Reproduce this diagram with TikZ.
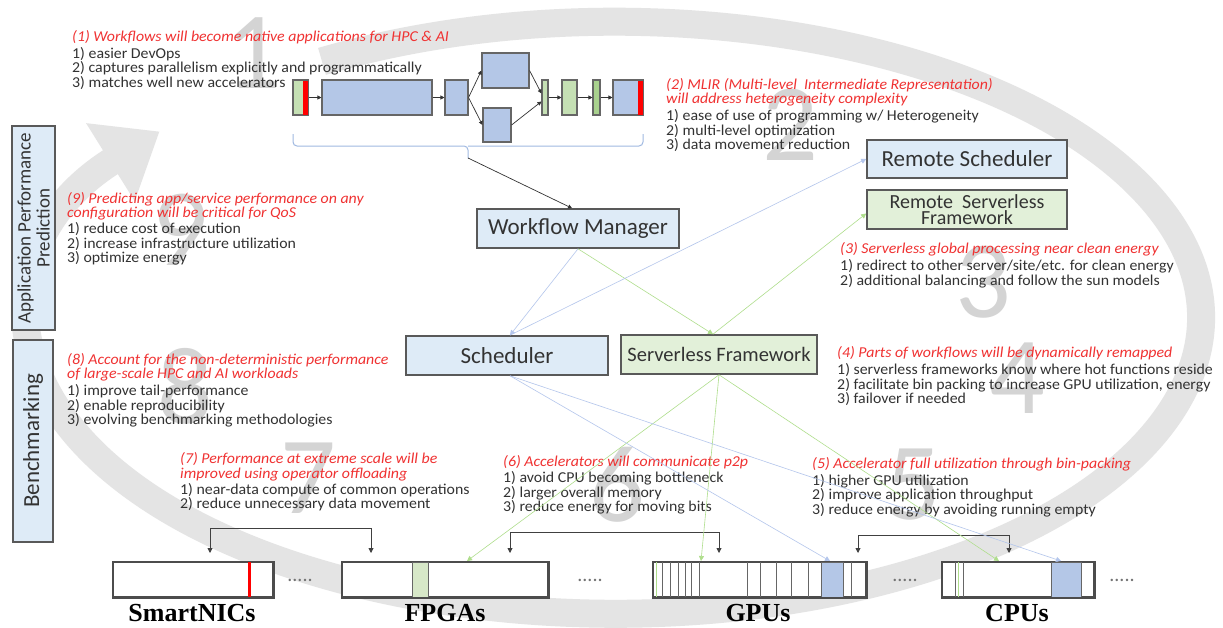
\documentclass[tikz,border=0pt]{standalone}
\usepackage{fontspec}
\usetikzlibrary{arrows.meta,calc}
\newfontfamily\bodyf{Carlito}
\newfontfamily\txtf{Carlito}[FakeStretch=1.05]
\newfontfamily\labf{Liberation Serif}
\definecolor{boxblue}{RGB}{222,235,247}
\definecolor{boxgreen}{RGB}{226,240,217}
\definecolor{blkblue}{RGB}{180,199,231}
\definecolor{blkgreen}{RGB}{197,224,180}
\definecolor{blkdkgreen}{RGB}{169,209,142}
\definecolor{stripred}{RGB}{255,0,0}
\definecolor{txtred}{RGB}{240,50,50}
\definecolor{txtgray}{RGB}{50,50,50}
\definecolor{ringgray}{RGB}{228,228,228}
\definecolor{digitgray}{RGB}{212,212,212}
\definecolor{linkblue}{RGB}{180,198,236}
\definecolor{linkgreen}{RGB}{175,222,140}
\definecolor{braceblue}{RGB}{160,185,225}
\definecolor{fpgagreen}{RGB}{215,232,200}
\newcommand\hd{\color{txtred}\itshape}
\newcommand\fs{\rule{0pt}{12pt}}
\begin{document}
\begin{tikzpicture}[x=1pt,y=-1pt,
  txt/.style={anchor=north west, inner sep=0pt, align=left, text=txtgray,
    font=\txtf\fontsize{15.1}{14.5}\selectfont},
  bx/.style={draw=black!65, line width=1.6pt, fill=boxblue, inner sep=0pt,
    text=black!80, align=center, font=\bodyf\fontsize{23}{24}\selectfont},
  gbx/.style={bx, fill=boxgreen},
  blk/.style={draw=black!60, line width=1.1pt, fill=blkblue, inner sep=0pt, minimum height=35pt},
  wfa/.style={draw=black!80, line width=0.7pt, -{Triangle[length=4pt,width=4pt]}},
  bar/.style={draw=black!70, line width=1.5pt, fill=white, inner sep=0pt, minimum height=35pt},
  barln/.style={draw=black!60, line width=1pt},
  bconn/.style={draw=black!75, line width=0.9pt, {Triangle[length=5pt,width=5pt]}-{Triangle[length=5pt,width=5pt]}},
  lkb/.style={draw=linkblue, line width=0.6pt, -{Triangle[length=5pt,width=5pt]}},
  lkg/.style={draw=linkgreen, line width=0.6pt, -{Triangle[length=5pt,width=5pt]}},
  dig/.style={text=digitgray, inner sep=0pt, font=\bodyf\fontsize{110}{110}\selectfont},
  lab/.style={inner sep=0pt, font=\labf\bfseries\fontsize{26}{26}\selectfont},
  dotsn/.style={inner sep=0pt, text=black!55, font=\bodyf\fontsize{20}{20}\selectfont}]
\useasboundingbox (0,0) rectangle (1223,627);
\fill[white] (0,0) rectangle (1223,627);

% background ring arrow
\draw[ringgray, line width=28pt, -{Triangle[length=58pt,width=88pt]}]
  (322,61.4) arc[start angle=120, end angle=-219, x radius=586pt, y radius=296pt];

% background digits
\node[dig] (d1) at (253,53) {1};
\node[dig] (d2) at (790,125) {2};
\node[dig] (d3) at (983,282) {3};
\node[dig] (d4) at (1017,378) {4};
\node[dig] (d5) at (913,485) {5};
\node[dig] (d6) at (617,485) {6};
\node[dig] (d7) at (308,478) {7};
\node[dig] (d8) at (185,386) {8};
\node[dig] (d9) at (180,230) {9};

% text blocks
\node[txt] (t1) at (72,29) {\fs{\hd (1) Workflows will become native applications for HPC \& AI}\\[2.5pt]
 1)~easier DevOps\\ 2)~captures parallelism explicitly and programmatically\\ 3)~matches well new accelerators};
\node[txt] (t2) at (666,77) {\fs{\hd (2) MLIR (Multi-level~ Intermediate Representation)}\\
 {\hd will address heterogeneity complexity}\\[2.5pt]
 1)~ease of use of programming w/ Heterogeneity\\ 2)~multi-level optimization\\ 3)~data movement reduction};
\node[txt] (t9) at (67,191) {\fs{\hd (9) Predicting app/service performance on any}\\
 {\hd configuration will be critical for QoS}\\[1.5pt]
 1)~reduce cost of execution\\ 2)~increase infrastructure utilization\\ 3)~optimize energy};
\node[txt] (t3) at (840,241.5) {\fs{\hd (3) Serverless global processing near clean energy}\\[2.5pt]
 1)~redirect to other server/site/etc. for clean energy\\ 2)~additional balancing and follow the sun models};
\node[txt] (t4) at (837,345.5) {\fs{\hd (4) Parts of workflows will be dynamically remapped}\\[2.5pt]
 1)~serverless frameworks know where hot functions reside\\ 2)~facilitate bin packing to increase GPU utilization, energy\\ 3)~failover if needed};
\node[txt] (t8) at (67,352) {\fs{\hd (8) Account for the non-deterministic performance}\\
 {\hd of large-scale HPC and AI workloads}\\[2.5pt]
 1)~improve tail-performance\\ 2)~enable reproducibility\\ 3)~evolving benchmarking methodologies};
\node[txt] (t7) at (180,451.5) {\fs{\hd (7) Performance at extreme scale will be}\\
 {\hd improved using operator offloading}\\[1.5pt]
 1)~near-data compute of common operations\\ 2)~reduce unnecessary data movement};
\node[txt] (t6) at (503,454.5) {\fs{\hd (6) Accelerators will communicate p2p}\\[1.5pt]
 1)~avoid CPU becoming bottleneck\\ 2)~larger overall memory\\ 3)~reduce energy for moving bits};
\node[txt] (t5) at (812,456) {\fs{\hd (5) Accelerator full utilization through bin-packing}\\[2.5pt]
 1)~higher GPU utilization\\ 2)~improve application throughput\\ 3)~reduce energy by avoiding running empty};

% workflow graph
\node[blk, fill=blkgreen, minimum width=15pt] (b1) at (300.5,97.5) {};
\fill[stripred] (302.5,80.5) rectangle (307.5,114.5);
\draw[draw=black!60, line width=1.1pt] (b1.north west) rectangle (b1.south east);
\node[blk, minimum width=110pt] (b2) at (377,97.5) {};
\node[blk, minimum width=23pt] (b3) at (456.5,97.5) {};
\node[blk, minimum width=47pt] (b4) at (505.5,70.5) {};
\node[blk, minimum width=28pt, minimum height=34pt] (b5) at (497,125) {};
\node[blk, fill=blkgreen, minimum width=6pt] (b6) at (545,97.5) {};
\node[blk, fill=blkgreen, minimum width=15pt] (b7) at (569.5,97.5) {};
\node[blk, fill=blkdkgreen, minimum width=7pt] (b8) at (596.5,97.5) {};
\node[blk, minimum width=30pt] (b9) at (628,97.5) {};
\fill[stripred] (637.5,80.5) rectangle (642.5,114.5);
\draw[draw=black!60, line width=1.1pt] (b9.north west) rectangle (b9.south east);
\draw[wfa] (b1) -- (b2);
\draw[wfa] (b2) -- (b3);
\draw[wfa] (b3.east) -- (b4.west);
\draw[wfa] (b3.east) -- (b5.west);
\draw[wfa] (b4.east) -- ([yshift=4pt]b6.west);
\draw[wfa] (b5.east) -- ([yshift=-4pt]b6.west);
\draw[wfa] (b6) -- (b7);
\draw[wfa] (b7) -- (b8);
\draw[wfa] (b8) -- (b9);

% brace under the workflow
\draw[braceblue, line width=1pt, rounded corners=4pt] (293,134) |- (468,146) -- (468,158);
\draw[braceblue, line width=1pt, rounded corners=4pt] (643,134) |- (468,146);
\coordinate (brc) at (468,158);

% main boxes
\node[bx, minimum width=202pt, minimum height=39pt] (wm) at (578,228.5) {Workflow Manager};
\node[bx, minimum width=200pt, minimum height=38pt] (rs) at (967,159) {Remote Scheduler};
\node[gbx, minimum width=200pt, minimum height=39pt, font=\bodyf\fontsize{20}{16}\selectfont] (rsf) at (967,209.5) {Remote~ Serverless\\Framework};
\node[bx, minimum width=202pt, minimum height=39pt] (sch) at (507,355.5) {Scheduler};
\node[gbx, minimum width=196pt, minimum height=39pt, font=\bodyf\fontsize{20.5}{22}\selectfont] (sf) at (719,354.5) {Serverless Framework};

% left labels
\node[bx, rotate=90, minimum width=204pt, minimum height=43pt, font=\bodyf\fontsize{19}{19}\selectfont] (app) at (33.5,228) {Application Performance\\Prediction};
\node[bx, rotate=90, minimum width=202pt, minimum height=40pt] (bench) at (33,441) {Benchmarking};

% connectors between boxes
\draw[wfa] (brc) -- ([xshift=-6pt]wm.north);
\draw[lkb] (wm.south) -- ([xshift=3pt]sch.north);
\draw[lkg] (wm.south) -- ([xshift=-6pt]sf.north);
\draw[lkb] ([xshift=3pt]sch.north) -- (rs.west);
\draw[lkg] ([xshift=-6pt]sf.north) -- ([yshift=-4pt]rsf.west);

% device bars
\node[bar, minimum width=160pt] (nic) at (193,579.5) {};
\node[bar, minimum width=206pt] (fpga) at (445,579.5) {};
\node[bar, minimum width=213pt] (gpu) at (759.5,579.5) {};
\node[bar, minimum width=152pt] (cpu) at (1018,579.5) {};
\fill[stripred] (247.5,562) rectangle (251,597);
\filldraw[fill=fpgagreen, barln] (412,562) rectangle (428,597);
\foreach \x in {662,670,678,685,691,699,747,760,776,791,808,851}
  \draw[barln] (\x,562) -- (\x,597);
\draw[linkgreen, line width=1pt] (656.5,562) -- (656.5,597);
\filldraw[fill=blkblue, barln] (821,562) rectangle (843,597);
\draw[barln] (955,562) -- (955,597);
\draw[barln] (963,562) -- (963,597);
\draw[linkgreen, line width=1pt] (958.5,562) -- (958.5,597);
\filldraw[fill=blkblue, barln] (1051,562) rectangle (1081,597);
\foreach \n in {nic,fpga,gpu,cpu}
  \draw[draw=black!70, line width=1.5pt] (\n.north west) rectangle (\n.south east);

\node[dotsn] (dt1) at (300,580) {.....};
\node[dotsn] (dt2) at (590,580) {.....};
\node[dotsn] (dt3) at (905,580) {.....};
\node[dotsn] (dt4) at (1122,580) {.....};

\node[lab] (lnic) at (192,613) {SmartNICs};
\node[lab] (lfpga) at (445,613) {FPGAs};
\node[lab] (lgpu) at (758,613) {GPUs};
\node[lab] (lcpu) at (1017,613) {CPUs};

% black p2p connectors
\coordinate (k1) at (210,553);
\coordinate (k2) at (371,553);
\coordinate (k3) at (510,553);
\coordinate (k4) at (719,553);
\coordinate (k5) at (858,553);
\coordinate (k6) at (1009,553);
\draw[bconn] (k1) -- ++(0,-25) -| (k2);
\draw[bconn] (k3) -- ++(0,-21) -| (k4);
\draw[bconn] (k5) -- ++(0,-18) -| (k6);

% scheduler / serverless to devices
\coordinate (gfp) at (467,561);
\coordinate (ggp) at (701,561);
\coordinate (gcp) at (999,561);
\coordinate (bgp) at (830,561);
\coordinate (bcp) at (1061,561);
\draw[lkg] (sf.south) -- (gfp);
\draw[lkg] (sf.south) -- (ggp);
\draw[lkg] (sf.south) -- (gcp);
\draw[lkb] ([xshift=3pt]sch.south) -- (bgp);
\draw[lkb] ([xshift=3pt]sch.south) -- (bcp);
\end{tikzpicture}
\end{document}
